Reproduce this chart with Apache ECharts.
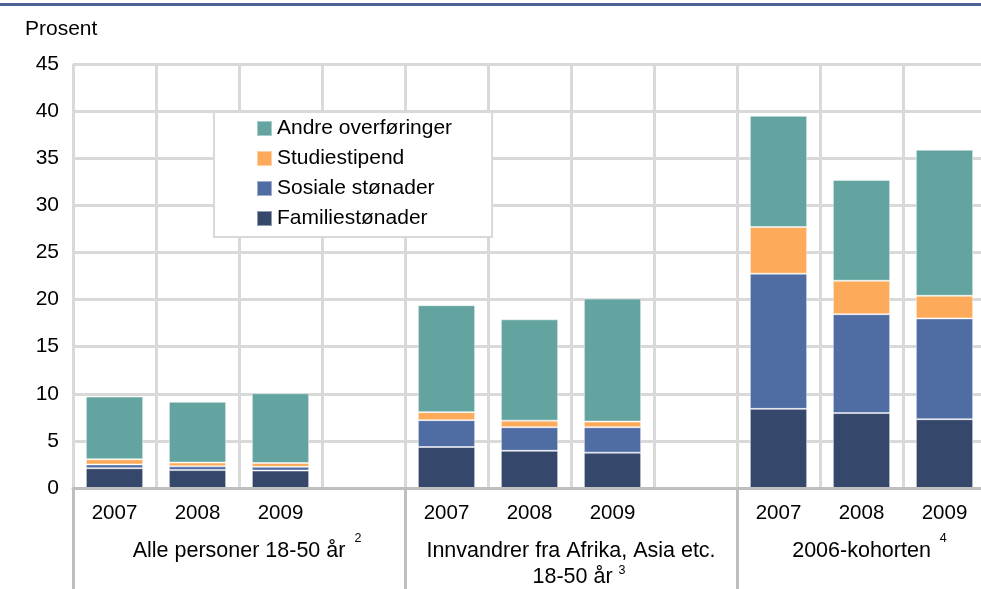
<!DOCTYPE html>
<html>
<head>
<meta charset="UTF-8">
<title>Stønader</title>
<script src="https://cdn.jsdelivr.net/npm/echarts@6/dist/echarts.min.js"></script>
<style>
  html, body { margin: 0; padding: 0; background: #fff; overflow: hidden; }
</style>
</head>
<body>
<!-- plottet går litt ut over høyre kant, som i originalen -->
<div id="chart" style="width:990px;height:589px;"></div>
<script type="text/javascript">
// kategorier langs x-aksen (tom kategori skiller gruppene)
var categories = ['2007', '2008', '2009', '', '2007', '2008', '2009', '', '2007', '2008', '2009'];
var groupNames = ['Alle personer 18-50 år', 'Innvandrer fra Afrika, Asia etc.\n18-50 år', '2006-kohorten'];
var groupNotes = ['2', '3', '4'];
var groupSpans = [4, 4, 3];

// verdier i prosent
var familie = [2.1, 1.9, 1.85, null, 4.35, 3.95, 3.75, null, 8.4, 7.95, 7.3];
var sosiale = [0.4, 0.4, 0.4, null, 2.85, 2.5, 2.7, null, 14.35, 10.5, 10.7];
var studie = [0.55, 0.4, 0.4, null, 0.85, 0.7, 0.6, null, 4.95, 3.55, 2.4];
var andre = [6.65, 6.45, 7.4, null, 11.35, 10.75, 13.05, null, 11.8, 10.7, 15.5];

var FONT = 'Liberation Sans, Arial, sans-serif';

// gruppeskiller og gruppemidt, regnet ut fra antall kategorier per gruppe
var groupStarts = [];
var groupCenters = [];
var acc = 0;
for (var i = 0; i < groupSpans.length; i++) {
  groupStarts.push(acc);
  groupCenters.push(acc + groupSpans[i] / 2);
  acc += groupSpans[i];
}

// fotnotetallet henger utenfor midtstillingen, derfor en tom {p|} foran
function groupLabel(v) {
  for (var i = 0; i < groupCenters.length; i++) {
    if (Math.abs(v - groupCenters[i]) < 0.01) {
      var lines = groupNames[i].split('\n');
      var last = lines.pop();
      if (lines.length) {
        return '{t|' + lines.join('\n') + '}\n{p|}{t|' + last + ' }{u|' + groupNotes[i] + '}';
      }
      return '{p|}{t|' + last + ' }{s|' + groupNotes[i] + '}';
    }
  }
  return '';
}

var myChart = echarts.init(document.getElementById('chart'));

function barSeries(name, data, color) {
  return {
    name: name,
    type: 'bar',
    stack: 'total',
    barWidth: '69%',
    data: data,
    itemStyle: { color: color, borderColor: 'rgba(255,255,255,0.45)', borderWidth: 1 },
    emphasis: { disabled: true }
  };
}

var option = {
  animation: false,
  textStyle: { fontFamily: FONT },
  title: {
    text: 'Prosent',
    left: 20,
    top: 14,
    textStyle: { fontFamily: FONT, fontSize: 21, fontWeight: 'normal', color: '#000' }
  },
  graphic: [{
    type: 'rect',
    shape: { x: 0, y: 3, width: 990, height: 3 },
    style: { fill: '#4a6394' }
  }],
  legend: {
    orient: 'vertical',
    left: 214,
    top: 112,
    data: ['Andre overføringer', 'Studiestipend', 'Sosiale stønader', 'Familiestønader'],
    backgroundColor: '#fff',
    borderColor: '#d9d9d9',
    borderWidth: 2,
    padding: [6, 40, 8, 42],
    itemWidth: 15,
    itemHeight: 15,
    itemGap: 9,
    icon: 'rect',
    textStyle: { fontFamily: FONT, fontSize: 21, color: '#000', lineHeight: 21 }
  },
  grid: { left: 73, right: 4, top: 64, bottom: 101, containLabel: false },
  xAxis: [{
    type: 'category',
    data: categories,
    axisLine: { show: true, lineStyle: { color: '#bfbfbf', width: 3 } },
    axisTick: { show: false },
    splitLine: { show: true, lineStyle: { color: '#d9d9d9', width: 3 } },
    axisLabel: { fontFamily: FONT, fontSize: 20.5, color: '#000', margin: 15, interval: 0 },
    z: 3
  }, {
    type: 'value',
    min: 0,
    max: categories.length,
    position: 'bottom',
    axisLine: { show: false },
    splitLine: { show: false },
    axisTick: {
      show: true,
      customValues: groupStarts,
      length: 110,
      lineStyle: { color: '#bfbfbf', width: 3 }
    },
    axisLabel: {
      show: true,
      customValues: groupCenters,
      margin: 50,
      formatter: groupLabel,
      rich: {
        t: { fontFamily: FONT, fontSize: 21.5, color: '#000', lineHeight: 26 },
        p: { width: 16, lineHeight: 26 },
        s: { fontFamily: FONT, fontSize: 12.5, color: '#000', height: 2, lineHeight: 2, verticalAlign: 'top', padding: [0, 0, 0, 3] },
        u: { fontFamily: FONT, fontSize: 12.5, color: '#000', height: 14, lineHeight: 2, verticalAlign: 'top', padding: [0, 0, 0, 0] }
      }
    }
  }],
  yAxis: {
    type: 'value',
    min: 0,
    max: 45,
    interval: 5,
    axisLine: { show: false },
    axisTick: { show: false },
    splitLine: { show: true, lineStyle: { color: '#d9d9d9', width: 3 } },
    axisLabel: { fontFamily: FONT, fontSize: 21, color: '#000', margin: 14 }
  },
  series: [
    barSeries('Familiestønader', familie, '#35476b'),
    barSeries('Sosiale stønader', sosiale, '#4f6ca3'),
    barSeries('Studiestipend', studie, '#fdaa5a'),
    barSeries('Andre overføringer', andre, '#63a3a0')
  ]
};

myChart.setOption(option);
</script>
</body>
</html>
